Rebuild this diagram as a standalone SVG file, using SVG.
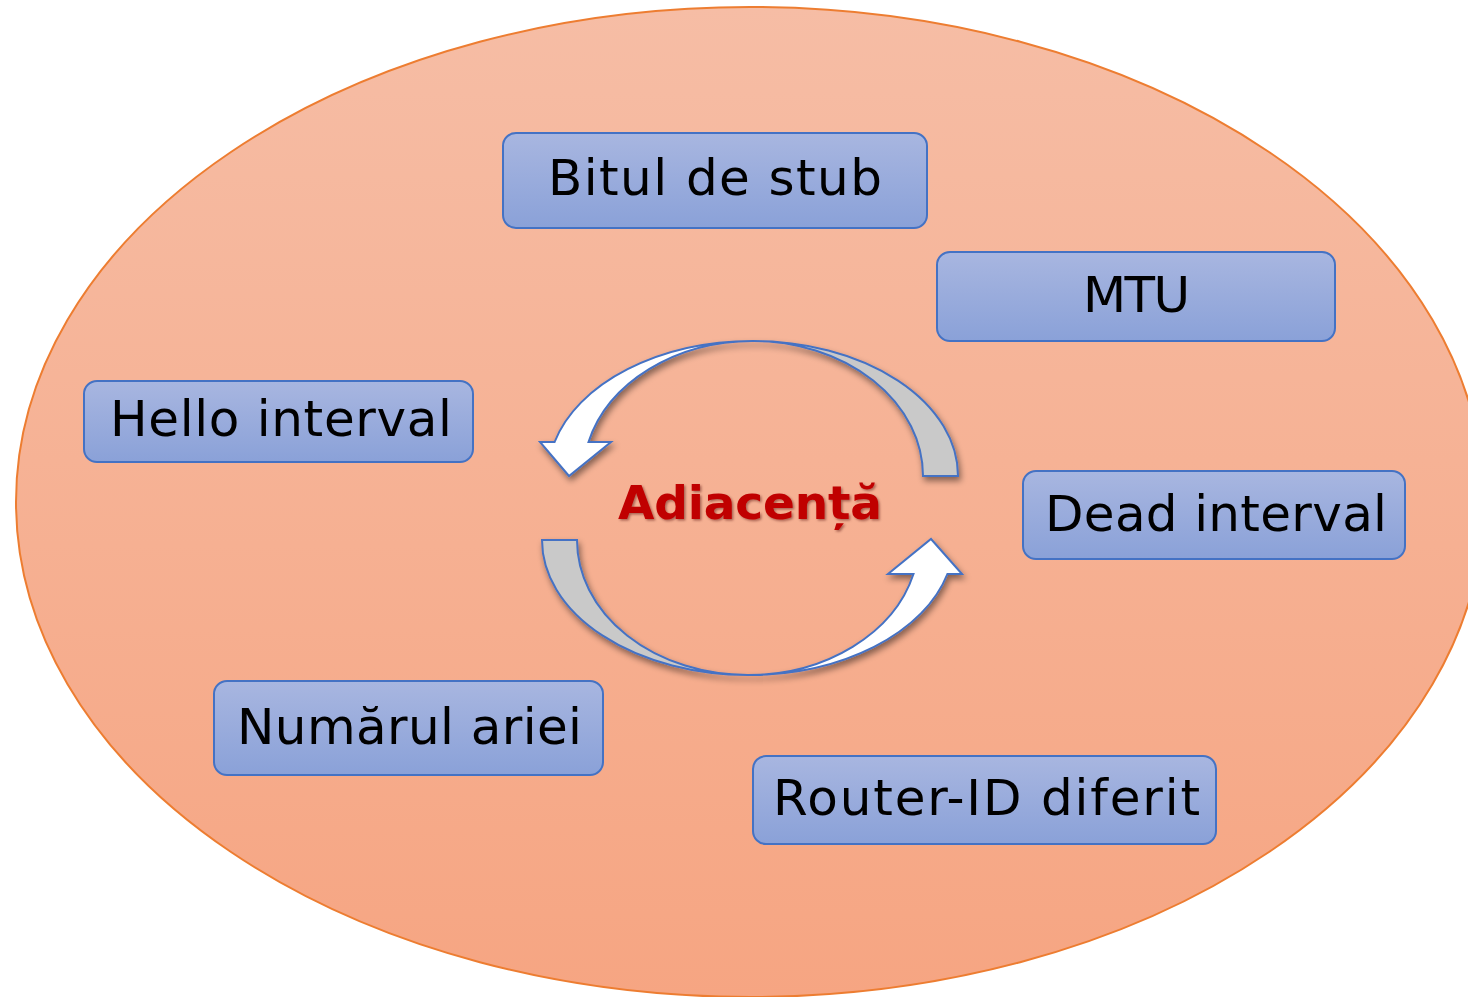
<svg xmlns="http://www.w3.org/2000/svg" width="1468" height="997" viewBox="0 0 1468 997">
<defs>
<linearGradient id="bg" x1="0" y1="0" x2="0" y2="1">
<stop offset="0" stop-color="#F6BDA5"/>
<stop offset="1" stop-color="#F6A582"/>
</linearGradient>
<linearGradient id="box" x1="0" y1="0" x2="0" y2="1">
<stop offset="0" stop-color="#A8B6E0"/>
<stop offset="1" stop-color="#8AA1D8"/>
</linearGradient>
<filter id="sh" x="-20%" y="-20%" width="140%" height="140%">
<feDropShadow dx="2" dy="4" stdDeviation="3" flood-color="#000" flood-opacity="0.45"/>
</filter>
<filter id="tsh" x="-10%" y="-20%" width="120%" height="140%">
<feDropShadow dx="1.5" dy="1.5" stdDeviation="1" flood-color="#400" flood-opacity="0.45"/>
</filter>
</defs>
<style>
.box{fill:url(#box);stroke:#4472C4;stroke-width:2}
.lbl{font-family:"DejaVu Sans",sans-serif;font-size:50px;fill:#000;text-anchor:middle}
.gray{fill:#C9C9C9;stroke:#4472C4;stroke-width:2}
.white{fill:#FFFFFF;stroke:#4472C4;stroke-width:2}
</style>
<ellipse id="area" cx="750" cy="502" rx="734" ry="495" fill="url(#bg)" stroke="#ED7D31" stroke-width="2"/>
<g id="connectors" filter="url(#sh)">
<path class="gray" d="M 958,476 A 205,135 0 0 0 753,341 A 170,135 0 0 1 923,476 Z"/>
<path class="white" d="M 753,341 A 205,135 0 0 0 554.6,442 L 540,442 L 569,476 L 611,442 L 588.5,442 A 170,135 0 0 1 753,341 Z"/>
<path class="gray" d="M 542,540 A 206,135 0 0 0 748,675 A 171,135 0 0 1 577,540 Z"/>
<path class="white" d="M 748,675 A 206,135 0 0 0 947.4,574 L 962,574 L 931,539 L 888,574 L 913.5,574 A 171,135 0 0 1 748,675 Z"/>
</g>
<g id="center">
<text x="750" y="519" font-family="'DejaVu Sans',sans-serif" font-weight="bold" font-size="47" fill="#C00000" text-anchor="middle" textLength="264" filter="url(#tsh)">Adiacență</text>
</g>
<g id="n-stub">
<rect class="box" x="503" y="133" width="424" height="95" rx="13"/>
<text class="lbl" x="715" y="195" textLength="334">Bitul de stub</text>
</g>
<g id="n-mtu">
<rect class="box" x="937" y="252" width="398" height="89" rx="13"/>
<text class="lbl" x="1136.5" y="312" textLength="107">MTU</text>
</g>
<g id="n-hello">
<rect class="box" x="84" y="381" width="389" height="81" rx="13"/>
<text class="lbl" x="281" y="436" textLength="342">Hello interval</text>
</g>
<g id="n-dead">
<rect class="box" x="1023" y="471" width="382" height="88" rx="13"/>
<text class="lbl" x="1216" y="531" textLength="342">Dead interval</text>
</g>
<g id="n-area">
<rect class="box" x="214" y="681" width="389" height="94" rx="13"/>
<text class="lbl" x="409.5" y="744" textLength="345">Numărul ariei</text>
</g>
<g id="n-rid">
<rect class="box" x="753" y="756" width="463" height="88" rx="13"/>
<text class="lbl" x="986.5" y="815" textLength="427">Router-ID diferit</text>
</g>
</svg>
